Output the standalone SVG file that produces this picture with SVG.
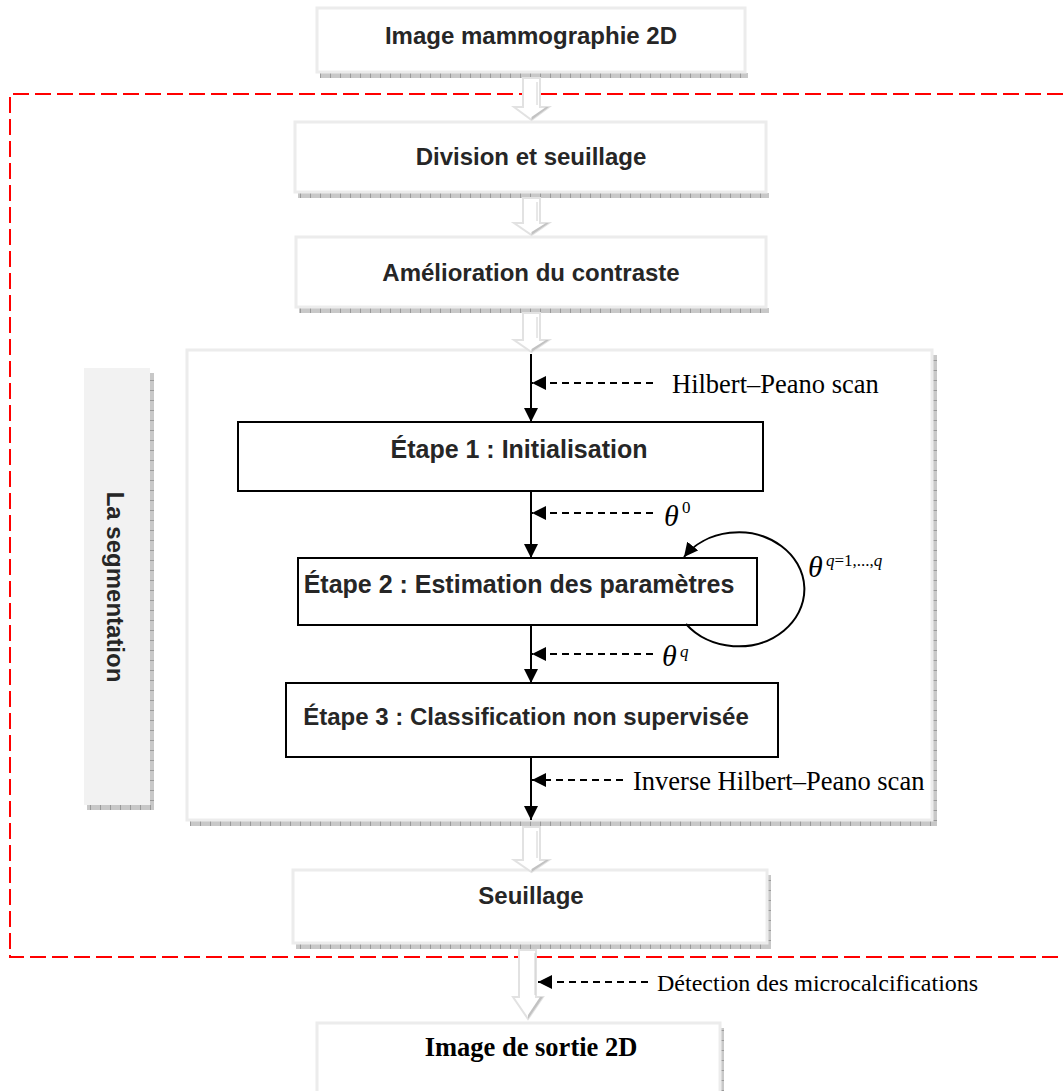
<svg xmlns="http://www.w3.org/2000/svg" width="1063" height="1091" viewBox="0 0 1063 1091">
<defs>
<style>
.box{fill:#fff;stroke:#ececec;stroke-width:3}
.step{fill:#fff;stroke:#000;stroke-width:2}
.lbl{font-family:"Liberation Sans",Arial,sans-serif;font-weight:bold;font-size:24px;fill:#262626;text-anchor:middle}
.slbl{font-size:25px}
.tm{font-family:"Liberation Serif","Times New Roman",serif;font-size:26.5px;fill:#000}
.th{font-family:"Liberation Serif","Times New Roman",serif;font-style:italic;font-size:30px;fill:#000}
.sup{font-family:"Liberation Serif","Times New Roman",serif;font-size:17px;fill:#000}
.flow{stroke:#000;stroke-width:2;fill:none}
.dash{stroke:#000;stroke-width:2;stroke-dasharray:7 5;fill:none}
.hollow{fill:#fff;stroke:#e2e2e2;stroke-width:2}
.facet{fill:#c2c2c2}
.shH{fill:url(#shH)}
.shV{fill:url(#shV)}
</style>
<pattern id="shH" width="10" height="6" patternUnits="userSpaceOnUse">
<rect width="10" height="6" fill="#c8c8c8"/>
<rect width="1" height="6" fill="#9a9a9a"/>
</pattern>
<pattern id="shV" width="6" height="10" patternUnits="userSpaceOnUse">
<rect width="6" height="10" fill="#c8c8c8"/>
<rect width="6" height="1" fill="#9a9a9a"/>
</pattern>
<marker id="ahB" viewBox="0 0 10 10" refX="10" refY="5" markerWidth="14" markerHeight="14" orient="auto" markerUnits="userSpaceOnUse">
<path d="M0,0 L10,5 L0,10 z" fill="#000"/>
</marker>
</defs>
<rect width="1063" height="1091" fill="#fff"/>

<g id="region-dashed">
<path d="M1063 94 H10 V957 H1063" fill="none" stroke="#ff0000" stroke-width="2" stroke-dasharray="16 6"/>
</g>

<g id="node-input">
<rect class="shH" x="320" y="73" width="428" height="5"/>
<rect class="box" x="317" y="8" width="428" height="64"/>
<text class="lbl" x="531" y="44">Image mammographie 2D</text>
</g>

<g id="node-division">
<rect class="shH" x="298" y="193" width="471" height="5"/>
<rect class="box" x="295" y="122" width="471" height="70"/>
<text class="lbl" x="531" y="165">Division et seuillage</text>
</g>

<g id="node-contraste">
<rect class="shH" x="299" y="308" width="470" height="5"/>
<rect class="box" x="296" y="237" width="470" height="70"/>
<text class="lbl" x="531" y="281">Amélioration du contraste</text>
</g>

<g id="node-segmentation-container">
<rect class="shH" x="190" y="821" width="746" height="5"/>
<rect class="shV" x="933" y="355" width="4" height="471"/>
<rect class="box" x="187" y="350" width="745" height="470"/>
</g>

<g id="node-segmentation-label">
<rect class="shV" x="150" y="373" width="4" height="437"/>
<rect class="shH" x="87" y="805" width="67" height="5"/>
<rect x="84" y="368" width="66" height="437" fill="#f2f2f2"/>
<text class="lbl" transform="translate(107 587) rotate(90)" x="0" y="0">La segmentation</text>
</g>

<g id="node-etape1">
<rect class="step" x="238" y="422" width="525" height="69"/>
<text class="lbl slbl" x="519" y="458">Étape 1 : Initialisation</text>
</g>

<g id="node-etape2">
<rect class="step" x="298" y="558" width="459" height="67"/>
<text class="lbl slbl" x="519" y="593">Étape 2 : Estimation des paramètres</text>
</g>

<g id="node-etape3">
<rect class="step" x="286" y="683" width="492" height="74"/>
<text class="lbl" x="526" y="725">Étape 3 : Classification non supervisée</text>
</g>

<g id="node-seuillage">
<rect class="shH" x="296" y="944" width="475" height="5"/>
<rect class="shV" x="767" y="875" width="4" height="74"/>
<rect class="box" x="293" y="870" width="474" height="73"/>
<text class="lbl" x="531" y="904">Seuillage</text>
</g>

<g id="node-output">
<rect class="shV" x="721" y="1028" width="3" height="70"/>
<rect class="box" x="317" y="1023" width="403" height="80"/>
<text class="tm" x="531" y="1056" style="font-weight:bold;text-anchor:middle">Image de sortie 2D</text>
</g>

<g id="connectors">
<polygon class="hollow" points="523,78 540,78 540,107 549,107 531.5,120 514,107 523,107"/>
<polygon class="facet" points="531.5,120 549,107 546,107 531.5,117"/>
<line x1="537" y1="82" x2="537" y2="105" stroke="#d0d0d0" stroke-width="1"/>

<polygon class="hollow" points="523,198 540,198 540,223 549,223 531.5,235 514,223 523,223"/>
<polygon class="facet" points="531.5,235 549,223 546,223 531.5,232"/>
<line x1="537" y1="202" x2="537" y2="221" stroke="#d0d0d0" stroke-width="1"/>

<polygon class="hollow" points="523,313 540,313 540,340 549,340 531.5,352 514,340 523,340"/>
<polygon class="facet" points="531.5,352 549,340 546,340 531.5,349"/>
<line x1="537" y1="317" x2="537" y2="338" stroke="#d0d0d0" stroke-width="1"/>

<polygon class="hollow" points="523,827 540,827 540,860 549,860 531.5,872 514,860 523,860"/>
<polygon class="facet" points="531.5,872 549,860 546,860 531.5,869"/>
<line x1="537" y1="831" x2="537" y2="858" stroke="#d0d0d0" stroke-width="1"/>

<polygon class="hollow" points="519,950 536,950 536,997 543,997 528,1019 513,997 519,997"/>
<polygon class="facet" points="528,1019 543,997 540,997 528,1015"/>
<line x1="535" y1="953" x2="535" y2="995" stroke="#d0d0d0" stroke-width="1"/>

<line class="flow" x1="531" y1="354" x2="531" y2="422" marker-end="url(#ahB)"/>
<line class="flow" x1="531" y1="491" x2="531" y2="558" marker-end="url(#ahB)"/>
<line class="flow" x1="531" y1="625" x2="531" y2="683" marker-end="url(#ahB)"/>
<line class="flow" x1="531" y1="757" x2="531" y2="820" marker-end="url(#ahB)"/>

<line class="dash" x1="653" y1="383" x2="532" y2="383" marker-end="url(#ahB)"/>
<line class="dash" x1="653" y1="513" x2="532" y2="513" marker-end="url(#ahB)"/>
<line class="dash" x1="653" y1="654" x2="532" y2="654" marker-end="url(#ahB)"/>
<line class="dash" x1="623" y1="780" x2="532" y2="780" marker-end="url(#ahB)"/>
<line class="dash" x1="648" y1="982" x2="538" y2="982" marker-end="url(#ahB)"/>

<path class="flow" d="M686 624 A66 57 0 1 0 684 557" marker-end="url(#ahB)"/>
</g>

<g id="labels">
<text class="tm" x="672" y="393">Hilbert–Peano scan</text>
<text class="th" x="664" y="526">θ</text><text class="sup" x="682" y="513">0</text>
<text class="th" x="808" y="577">θ</text><text class="sup" x="826" y="566"><tspan font-style="italic">q</tspan>=1,...,<tspan font-style="italic">q</tspan></text>
<text class="th" x="662" y="666">θ</text><text class="sup" x="680" y="657" font-style="italic">q</text>
<text class="tm" x="633" y="790">Inverse Hilbert–Peano scan</text>
<text class="tm" x="657" y="991" style="font-size:24px">Détection des microcalcifications</text>
</g>
</svg>
